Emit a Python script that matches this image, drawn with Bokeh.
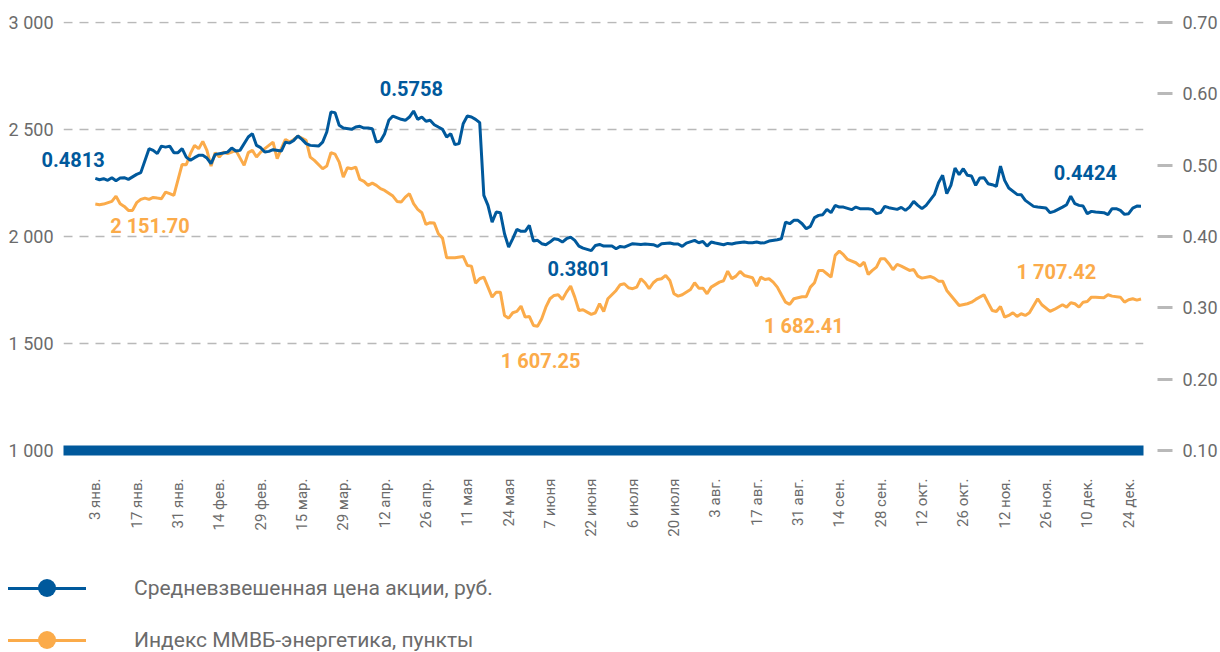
import numpy as np
from bokeh.plotting import figure
from bokeh.layouts import column
from bokeh.models import Range1d, LinearAxis, FixedTicker, Label, Div
from bokeh.embed import file_html
from bokeh.resources import INLINE

BLUE = "#00599c"
ORANGE = "#fbab4a"
GRAY = "#6b6b6b"
GRID = "#b9b9b9"
FONT = "Roboto"

# --- data -------------------------------------------------------------
date_ticks = list(range(0, 251, 10))
date_labels = ["3 янв.", "17 янв.", "31 янв.", "14 фев.", "29 фев.", "15 мар.",
               "29 мар.", "12 апр.", "26 апр.", "11 мая", "24 мая", "7 июня",
               "22 июня", "6 июля", "20 июля", "3 авг.", "17 авг.", "31 авг.",
               "14 сен.", "28 сен.", "12 окт.", "26 окт.", "12 ноя.", "26 ноя.",
               "10 дек.", "24 дек."]

left_ticks = [1000, 1500, 2000, 2500, 3000]
left_labels = ["1 000", "1 500", "2 000", "2 500", "3 000"]
right_ticks = [0.1, 0.2, 0.3, 0.4, 0.5, 0.6, 0.7]
right_labels = ["0.10", "0.20", "0.30", "0.40", "0.50", "0.60", "0.70"]

# weighted average share price, RUB (trading-day index)
price_day = [0, 1, 2, 3, 4, 5, 6, 7, 8, 10, 11, 13, 14, 15, 16, 17, 18, 19, 20, 21,
             22, 23, 24, 25, 26, 27, 28, 29, 31, 32, 33, 34, 35, 37, 38, 39, 40, 41, 42, 43,
             45, 46, 47, 48, 49, 50, 51, 52, 54, 55, 56, 57, 58, 59, 60, 62, 63, 64, 65, 66,
             67, 68, 69, 70, 71, 72, 74, 75, 76, 77, 78, 79, 80, 81, 82, 83, 84, 85, 86, 87,
             88, 89, 90, 91, 92, 93, 94, 95, 96, 97, 98, 99, 100, 101, 102, 103, 104, 105, 106, 107,
             108, 109, 110, 111, 112, 113, 114, 115, 116, 117, 118, 120, 121, 122, 123, 125, 126, 127, 128, 130,
             132, 133, 135, 136, 137, 139, 140, 141, 142, 143, 145, 146, 147, 148, 149, 150, 152, 153, 154, 155,
             157, 158, 159, 160, 161, 162, 163, 165, 166, 167, 168, 169, 170, 171, 172, 173, 174, 175, 176, 177,
             178, 179, 180, 181, 183, 184, 185, 187, 188, 189, 190, 191, 192, 194, 195, 196, 197, 198, 199, 200,
             201, 203, 204, 205, 206, 207, 208, 209, 210, 211, 212, 213, 214, 215, 216, 217, 218, 219, 220, 221,
             223, 224, 225, 227, 228, 230, 231, 232, 234, 235, 236, 237, 238, 239, 240, 241, 242, 244, 245, 246,
             247, 248, 249, 250, 251, 252, 253]
price_value = [0.4813, 0.4795, 0.4809, 0.4786, 0.4823, 0.4781, 0.4818, 0.4823, 0.4800, 0.4870,
               0.4894, 0.5230, 0.5206, 0.5160, 0.5266, 0.5252, 0.5266, 0.5174, 0.5174, 0.5230,
               0.5112, 0.5066, 0.5104, 0.5136, 0.5136, 0.5098, 0.5020, 0.5150, 0.5168, 0.5182,
               0.5238, 0.5196, 0.5206, 0.5393, 0.5440, 0.5276, 0.5244, 0.5182, 0.5192, 0.5216,
               0.5196, 0.5322, 0.5308, 0.5346, 0.5407, 0.5360, 0.5300, 0.5276, 0.5266, 0.5322,
               0.5463, 0.5743, 0.5735, 0.5557, 0.5519, 0.5501, 0.5533, 0.5543, 0.5519, 0.5519,
               0.5510, 0.5322, 0.5337, 0.5440, 0.5627, 0.5687, 0.5641, 0.5627, 0.5673, 0.5758,
               0.5641, 0.5673, 0.5613, 0.5627, 0.5566, 0.5533, 0.5501, 0.5393, 0.5440, 0.5286,
               0.5300, 0.5580, 0.5687, 0.5673, 0.5641, 0.5594, 0.4575, 0.4435, 0.4201, 0.4341,
               0.4333, 0.4038, 0.3850, 0.3968, 0.4099, 0.4071, 0.4071, 0.4155, 0.3935, 0.3945,
               0.3898, 0.3884, 0.3921, 0.3968, 0.3958, 0.3921, 0.3968, 0.3991, 0.3945, 0.3865,
               0.3837, 0.3801, 0.3874, 0.3888, 0.3865, 0.3865, 0.3828, 0.3860, 0.3850, 0.3898,
               0.3888, 0.3893, 0.3884, 0.3860, 0.3898, 0.3907, 0.3893, 0.3893, 0.3860, 0.3907,
               0.3945, 0.3912, 0.3930, 0.3865, 0.3921, 0.3907, 0.3884, 0.3902, 0.3893, 0.3907,
               0.3921, 0.3912, 0.3912, 0.3921, 0.3907, 0.3912, 0.3935, 0.3954, 0.3968, 0.4201,
               0.4178, 0.4225, 0.4225, 0.4178, 0.4108, 0.4141, 0.4263, 0.4295, 0.4305, 0.4379,
               0.4333, 0.4435, 0.4411, 0.4411, 0.4375, 0.4411, 0.4389, 0.4389, 0.4379, 0.4319,
               0.4333, 0.4421, 0.4403, 0.4379, 0.4407, 0.4365, 0.4411, 0.4491, 0.4435, 0.4389,
               0.4435, 0.4585, 0.4753, 0.4856, 0.4599, 0.4716, 0.4958, 0.4865, 0.4949, 0.4856,
               0.4846, 0.4716, 0.4818, 0.4823, 0.4739, 0.4725, 0.4701, 0.4986, 0.4786, 0.4678,
               0.4589, 0.4585, 0.4505, 0.4421, 0.4411, 0.4397, 0.4333, 0.4351, 0.4411, 0.4445,
               0.4565, 0.4459, 0.4435, 0.4425, 0.4319, 0.4351, 0.4341, 0.4333, 0.4305, 0.4389,
               0.4389, 0.4365, 0.4309, 0.4319, 0.4397, 0.4425, 0.4424]

# MICEX Power index, points (trading-day index)
index_day = [0, 1, 2, 4, 5, 6, 7, 8, 9, 10, 11, 12, 13, 14, 15, 16, 17, 18, 19, 21,
             22, 23, 24, 25, 26, 27, 28, 29, 30, 31, 32, 33, 34, 36, 37, 38, 39, 40, 41, 43,
             44, 45, 46, 47, 48, 49, 51, 52, 53, 55, 56, 57, 58, 59, 60, 61, 62, 63, 64, 65,
             66, 67, 68, 69, 70, 72, 73, 74, 75, 76, 77, 78, 79, 80, 81, 82, 83, 84, 85, 86,
             87, 89, 90, 91, 92, 93, 94, 95, 96, 97, 98, 99, 100, 101, 102, 103, 104, 105, 106, 107,
             108, 109, 110, 111, 112, 113, 114, 115, 116, 117, 118, 119, 120, 121, 122, 123, 124, 126, 127, 128,
             129, 130, 131, 132, 133, 134, 135, 136, 137, 138, 139, 140, 141, 142, 144, 145, 146, 147, 148, 149,
             151, 152, 153, 154, 155, 156, 157, 159, 160, 161, 162, 163, 164, 165, 166, 167, 168, 169, 171, 172,
             173, 174, 175, 176, 177, 178, 179, 180, 181, 182, 184, 185, 186, 187, 188, 189, 190, 191, 192, 193,
             194, 195, 197, 198, 199, 200, 202, 203, 204, 205, 206, 207, 208, 209, 211, 212, 213, 215, 216, 217,
             218, 219, 220, 221, 222, 223, 224, 225, 226, 228, 229, 231, 232, 234, 235, 236, 237, 238, 239, 240,
             241, 242, 244, 245, 246, 248, 249, 250, 251, 252, 253]
index_value = [2151.70, 2148.2, 2151.0, 2163.6, 2188.4, 2152.9, 2140.3, 2121.6, 2121.6, 2157.6,
               2173.0, 2179.1, 2173.0, 2182.3, 2179.1, 2176.3, 2207.1, 2199.6, 2191.7, 2336.5,
               2335.1, 2386.5, 2425.3, 2409.9, 2444.0, 2401.9, 2328.6, 2391.2, 2370.7, 2394.0,
               2386.5, 2394.0, 2402.0, 2331.9, 2391.2, 2402.0, 2370.7, 2394.0, 2409.9, 2440.8,
               2363.2, 2409.9, 2453.3, 2440.8, 2453.3, 2468.8, 2448.7, 2370.7, 2355.2, 2316.4,
               2328.6, 2391.2, 2384.6, 2347.3, 2277.2, 2321.0, 2316.4, 2324.0, 2266.4, 2257.1,
               2238.4, 2249.2, 2238.4, 2223.0, 2215.0, 2188.4, 2163.6, 2160.4, 2183.7, 2199.6,
               2152.9, 2126.3, 2110.8, 2056.2, 2064.1, 2062.2, 2012.7, 1992.2, 1900.6, 1900.6,
               1900.6, 1906.6, 1864.6, 1861.3, 1781.8, 1802.4, 1809.9, 1763.2, 1716.4, 1739.8,
               1739.8, 1631.0, 1618.3, 1643.6, 1649.6, 1674.4, 1623.0, 1626.2, 1584.1, 1580.9,
               1615.4, 1669.7, 1708.9, 1724.4, 1727.6, 1705.7, 1739.8, 1767.8, 1716.4, 1654.3,
               1657.5, 1646.3, 1635.6, 1643.5, 1685.6, 1649.6, 1708.9, 1747.7, 1774.4, 1779.0,
               1760.3, 1755.7, 1763.2, 1802.4, 1783.7, 1755.7, 1783.7, 1799.1, 1802.4, 1817.8,
               1794.5, 1732.3, 1721.1, 1727.6, 1752.4, 1783.7, 1758.5, 1758.5, 1732.3, 1763.2,
               1786.6, 1793.1, 1838.0, 1802.4, 1814.6, 1836.5, 1817.8, 1807.1, 1767.8, 1809.9,
               1799.1, 1802.4, 1786.5, 1763.2, 1727.6, 1693.0, 1682.41, 1708.9, 1718.3, 1718.3,
               1763.2, 1783.7, 1841.2, 1841.2, 1825.7, 1809.9, 1911.3, 1931.3, 1914.5, 1892.6,
               1877.1, 1861.3, 1880.0, 1822.6, 1841.2, 1856.6, 1895.8, 1895.8, 1872.5, 1844.4,
               1869.2, 1861.3, 1841.2, 1845.9, 1814.6, 1805.2, 1813.1, 1805.2, 1791.2, 1791.2,
               1747.7, 1724.4, 1701.0, 1677.6, 1685.6, 1693.0, 1705.7, 1727.6, 1690.2, 1654.3,
               1649.6, 1673.0, 1622.9, 1630.9, 1643.5, 1626.2, 1638.8, 1630.9, 1643.5, 1708.9,
               1680.9, 1649.6, 1658.9, 1680.9, 1669.7, 1690.2, 1685.6, 1669.7, 1693.0, 1696.3,
               1716.4, 1716.4, 1713.6, 1727.6, 1721.1, 1716.4, 1693.0, 1704.2, 1708.9, 1702.4,
               1707.42]

series_names = ["Средневзвешенная цена акции, руб.", "Индекс ММВБ-энергетика, пункты"]
series_colors = [BLUE, ORANGE]

# --- main figure ------------------------------------------------------
p = figure(frame_width=1080, frame_height=429,
           x_range=Range1d(-7.7, 253.6), y_range=Range1d(1000, 3004),
           output_backend="svg", toolbar_location=None,
           min_border_left=63, min_border_right=77, min_border_top=21, min_border_bottom=118,
           background_fill_color="white", border_fill_color="white")
p.outline_line_color = None
p.extra_y_ranges = {"price": Range1d(0.1, 0.7012)}

# grid
p.xgrid.visible = False
p.ygrid.ticker = FixedTicker(ticks=left_ticks[1:])
p.ygrid.grid_line_color = GRID
p.ygrid.grid_line_width = 1.5
p.ygrid.grid_line_dash = "9 7"

# left axis
ya = p.yaxis[0]
ya.ticker = FixedTicker(ticks=left_ticks)
ya.major_label_overrides = {t: l for t, l in zip(left_ticks, left_labels)}
ya.axis_line_color = None
ya.major_tick_line_color = None
ya.minor_tick_line_color = None
ya.major_tick_out = 0
ya.major_tick_in = 0
ya.major_label_standoff = 10
ya.major_label_text_font = FONT
ya.major_label_text_font_size = "18px"
ya.major_label_text_color = GRAY

# right axis
ra = LinearAxis(y_range_name="price", ticker=FixedTicker(ticks=right_ticks))
ra.major_label_overrides = {t: l for t, l in zip(right_ticks, right_labels)}
ra.axis_line_color = None
ra.minor_tick_line_color = None
ra.major_tick_in = -14
ra.major_tick_out = 29
ra.major_tick_line_color = GRID
ra.major_tick_line_width = 3
ra.major_label_standoff = 10
ra.major_label_text_font = FONT
ra.major_label_text_font_size = "18px"
ra.major_label_text_color = GRAY
p.add_layout(ra, "right")

# x axis (thick blue base bar)
xa = p.xaxis[0]
xa.ticker = FixedTicker(ticks=date_ticks)
xa.major_label_overrides = {t: l for t, l in zip(date_ticks, date_labels)}
xa.major_label_orientation = np.pi / 2
xa.axis_line_color = BLUE
xa.axis_line_width = 10
xa.major_tick_line_color = None
xa.minor_tick_line_color = None
xa.major_tick_out = 0
xa.major_tick_in = 0
xa.major_label_standoff = 28
xa.major_label_text_font = FONT
xa.major_label_text_font_size = "15px"
xa.major_label_text_color = GRAY

# lines
p.line(index_day, index_value, line_color=ORANGE, line_width=3)
p.line(price_day, price_value, y_range_name="price", line_color=BLUE, line_width=3)

# value labels
def make_label(x, y, text, color, rng="default"):
    return Label(x=x, y=y, text=text, y_range_name=rng,
                 text_font=FONT, text_font_style="bold", text_font_size="20px",
                 text_color=color, text_align="left", text_baseline="middle")

# the first label crosses the frame edge, so it lives in a side panel (not clipped)
p.add_layout(make_label(-13.0, 0.5073, "0.4813", BLUE, "price"), "below")
p.add_layout(make_label(68.8, 0.6075, "0.5758", BLUE, "price"))
p.add_layout(make_label(109.4, 0.3552, "0.3801", BLUE, "price"))
p.add_layout(make_label(231.9, 0.4891, "0.4424", BLUE, "price"))
p.add_layout(make_label(3.6, 2046.8, "2 151.70", ORANGE))
p.add_layout(make_label(98.1, 1415.9, "1 607.25", ORANGE))
p.add_layout(make_label(161.8, 1579.5, "1 682.41", ORANGE))
p.add_layout(make_label(222.9, 1831.8, "1 707.42", ORANGE))

# --- legend (line + dot swatches with labels) -------------------------
rows = []
for i, (name, col) in enumerate(zip(series_names, series_colors)):
    cy = 20 + 52 * i
    rows.append(
        f'<div style="position:absolute;left:8px;top:{cy - 1.5}px;width:78px;height:3px;background:{col};"></div>'
        f'<div style="position:absolute;left:38px;top:{cy - 9}px;width:18px;height:18px;'
        f'border-radius:50%;background:{col};"></div>'
        f'<div style="position:absolute;left:134px;top:{cy - 14}px;height:28px;line-height:28px;'
        f'white-space:nowrap;">{name}</div>')
legend_html = (f'<div style="position:relative;width:1220px;height:82px;'
               f'font-family:{FONT},sans-serif;font-size:21px;color:{GRAY};">'
               + "".join(rows) + '</div>')
legend_div = Div(text=legend_html, width=1220, height=82, margin=0)

layout = column(p, legend_div, spacing=0)
open("out.html", "w").write(file_html(layout, INLINE))
